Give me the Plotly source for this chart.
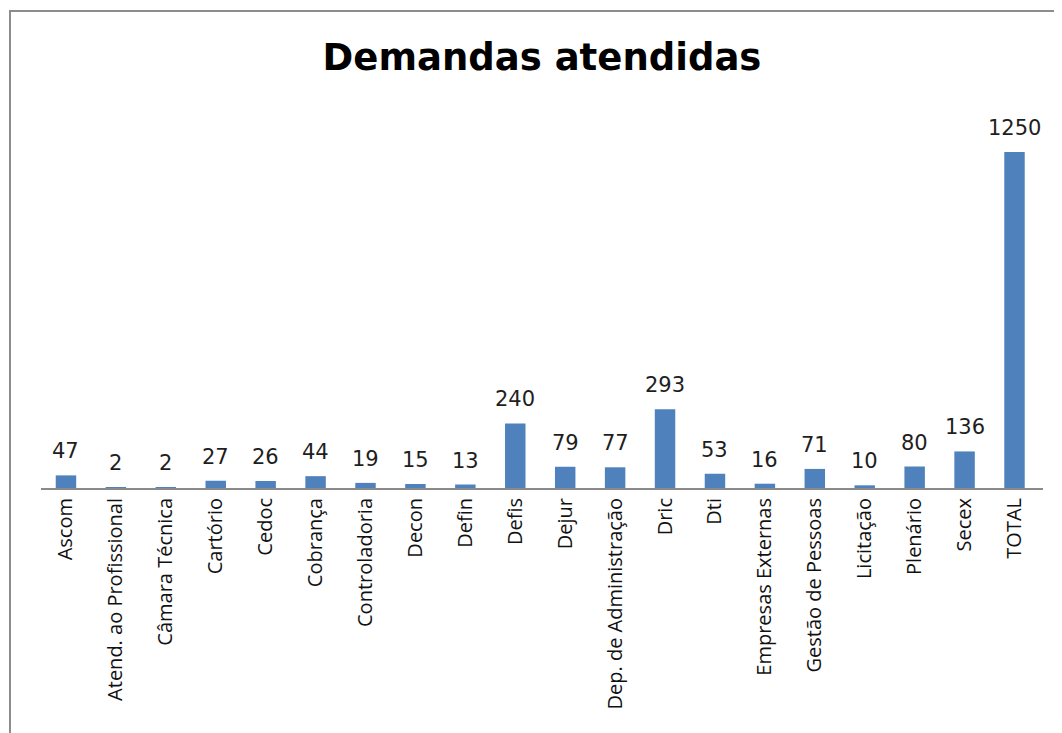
import plotly.graph_objects as go

categories = ["Ascom", "Atend. ao Profissional", "Câmara Técnica", "Cartório", "Cedoc",
              "Cobrança", "Controladoria", "Decon", "Defin", "Defis", "Dejur",
              "Dep. de Administração", "Dric", "Dti", "Empresas Externas",
              "Gestão de Pessoas", "Licitação", "Plenário", "Secex", "TOTAL"]
values = [47, 2, 2, 27, 26, 44, 19, 15, 13, 240, 79, 77, 293, 53, 16, 71, 10, 80, 136, 1250]
labels = [str(v) for v in values]

# page body has an 8px default margin; compensate so that target pixel positions match
OFF = 8
W, H = 1054, 725
L, T = 41 - OFF, 110 - OFF
PW = 1002
BASE = 488 - OFF
R = W - L - PW
B = H - BASE

fig = go.Figure()
fig.add_trace(go.Bar(
    x=categories, y=values,
    marker=dict(color="#4F81BD", line=dict(width=0)),
    width=0.41,
    cliponaxis=False,
))

for c, v, t in zip(categories, values, labels):
    fig.add_annotation(x=c, y=v, text=t, showarrow=False, xanchor="center",
                       yanchor="bottom", yshift=10,
                       font=dict(family="DejaVu Sans", size=21, color="#1e1e1e"))

ph = H - T - B


def px_x(p):
    return (p - OFF - L) / PW


def px_y(p):
    return (H - B - (p - OFF)) / ph


fig.update_layout(
    width=W, height=H,
    margin=dict(l=L, r=R, t=T, b=B),
    paper_bgcolor="white", plot_bgcolor="white",
    showlegend=False,
    bargap=0.59,
    title=dict(text="<b>Demandas atendidas</b>", x=(542 - OFF) / W, xanchor="center",
               y=1 - (57 - OFF) / H, yanchor="middle",
               font=dict(family="DejaVu Sans", size=37, color="#000000")),
    xaxis=dict(showline=True, linecolor="#8a8a8a", linewidth=2, ticks="",
               tickangle=-90, showgrid=False, zeroline=False,
               tickfont=dict(family="Open Sans", size=20, color="#111111")),
    yaxis=dict(range=[0, 1250 * (488 - 110) / (488 - 152)], visible=False,
               showgrid=False, zeroline=False),
    shapes=[dict(type="rect", xref="paper", yref="paper",
                 x0=px_x(10), x1=px_x(1080), y0=px_y(760), y1=px_y(11),
                 line=dict(color="#8c8c8c", width=2), layer="below")],
)

fig.write_html("out.html")
